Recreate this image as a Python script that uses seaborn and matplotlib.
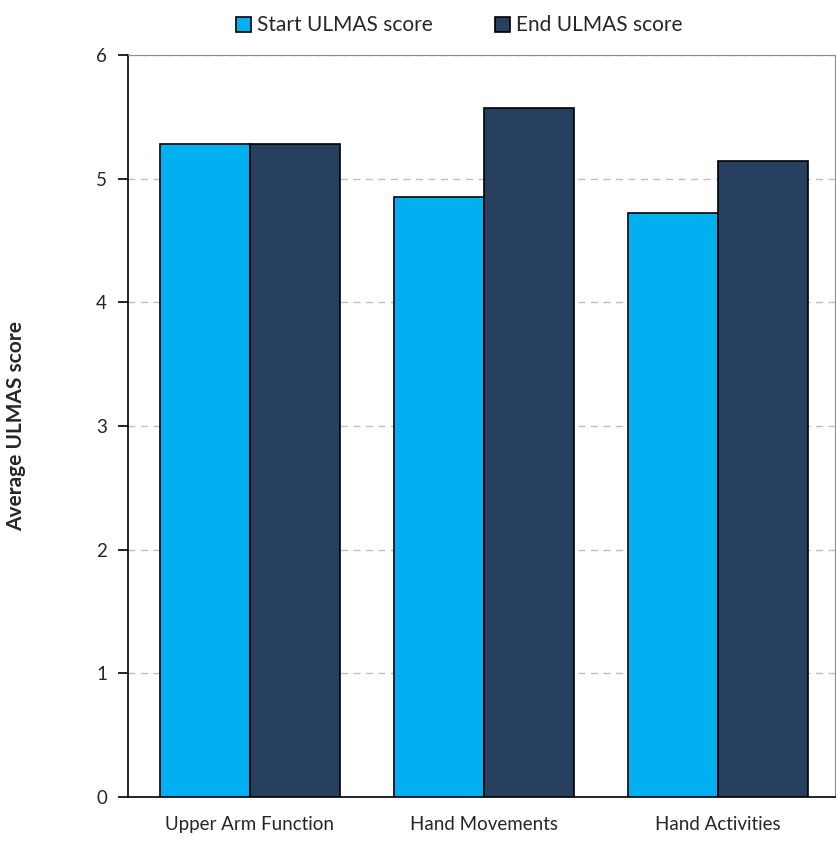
import pandas as pd
import matplotlib.pyplot as plt
import seaborn as sns

categories = ["Upper Arm Function", "Hand Movements", "Hand Activities"]
start_scores = [5.28, 4.85, 4.72]
end_scores = [5.28, 5.57, 5.14]
series = ["Start ULMAS score", "End ULMAS score"]
colors = ["#00B0F0", "#27405F"]


def build_frame():
    rows = []
    for name, vals in zip(series, [start_scores, end_scores]):
        for cat, v in zip(categories, vals):
            rows.append({"category": cat, "series": name, "score": v})
    return pd.DataFrame(rows)


def generate_plot(df):
    sns.set_style("white")
    plt.rcParams["font.family"] = ["Lato", "DejaVu Sans"]

    fig = plt.figure(figsize=(8.36, 8.43), dpi=100)
    ax = fig.add_axes([0.153, 0.0546, 0.846, 0.880])

    sns.barplot(data=df, x="category", y="score", hue="series",
                palette=colors, width=0.77, gap=0, edgecolor="black",
                linewidth=1.2, saturation=1, ax=ax, zorder=3)

    ax.set_ylim(0, 6)
    ax.set_xlim(-0.52, 2.5)
    ax.set_yticks(range(0, 7))
    ax.yaxis.grid(True, linestyle=(0, (5, 4)), color="#BFBFBF", linewidth=1, zorder=0)
    ax.set_axisbelow(True)

    ax.spines["left"].set_color("black")
    ax.spines["bottom"].set_color("black")
    ax.spines["left"].set_linewidth(1.2)
    ax.spines["bottom"].set_linewidth(1.2)
    ax.spines["top"].set_color("#8C8C8C")
    ax.spines["right"].set_color("#8C8C8C")

    ax.tick_params(axis="y", direction="out", length=7, width=1.2, color="black",
                   labelsize=13.5, left=True, pad=8)
    ax.tick_params(axis="x", length=0, labelsize=13.5, pad=14)
    ax.set_xlabel("")
    ax.set_ylabel("")

    fig.text(0.019, 0.495, "Average ULMAS score", rotation=90, fontweight="bold",
             fontsize=15, ha="center", va="center")

    leg = ax.legend(loc="center", bbox_to_anchor=(0.468, 1.04), ncol=2,
                    frameon=False, fontsize=15, handlelength=0.75, handleheight=0.75,
                    handletextpad=0.25, columnspacing=3.0)
    for h in leg.legend_handles:
        h.set_edgecolor("black")
        h.set_linewidth(1.2)

    fig.savefig("out.png", dpi=100)
    plt.close(fig)
    return "out.png"


generate_plot(build_frame())
